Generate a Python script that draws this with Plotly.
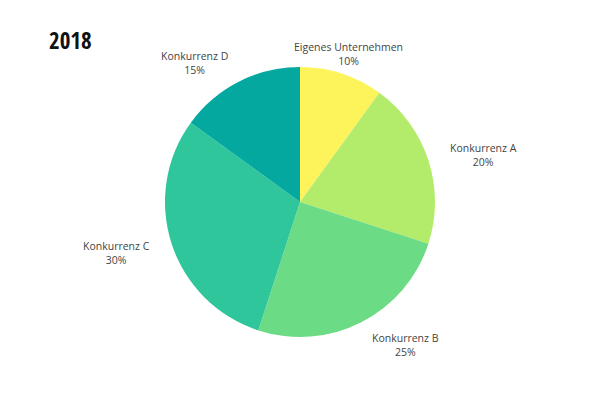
import math
import plotly.graph_objects as go

labels = ["Eigenes Unternehmen", "Konkurrenz A", "Konkurrenz B", "Konkurrenz C", "Konkurrenz D"]
values = [10, 20, 25, 30, 15]
colors = ["#fdf45c", "#b2ec6a", "#6cdb85", "#2ec69a", "#05a89f"]
title_text = "2018"

W, H = 600, 400
cx, cy, r = 292, 194, 135  # pie centre / radius in figure pixels

fig = go.Figure(go.Pie(
    labels=labels,
    values=values,
    sort=False,
    direction="clockwise",
    rotation=0,
    marker=dict(colors=colors, line=dict(width=0)),
    textinfo="none",
    hoverinfo="label+percent",
    showlegend=False,
    domain=dict(x=[(cx - r) / W, (cx + r) / W], y=[(H - cy - r) / H, (H - cy + r) / H]),
))

# outside labels, positioned at the middle angle of each slice
total = sum(values)
annotations = []
acc = 0
R = 1.17 * r
for lab, v in zip(labels, values):
    mid = (acc + v / 2) / total * 2 * math.pi
    acc += v
    s, c = math.sin(mid), math.cos(mid)
    if s > 0.4:
        xa = "left"
    elif s < -0.4:
        xa = "right"
    else:
        xa = "center"
    px = cx + R * s
    py = cy - R * c + 2
    annotations.append(dict(
        text=f"{lab}<br>{round(v / total * 100)}%",
        x=px / W, y=1 - py / H, xref="paper", yref="paper",
        xanchor=xa, yanchor="middle", align="center", showarrow=False,
        borderpad=0, borderwidth=0,
        font=dict(family="Open Sans", size=10.5, color="#444"),
    ))

fig.update_layout(
    width=W, height=H,
    margin=dict(l=0, r=0, t=0, b=0),
    paper_bgcolor="white",
    plot_bgcolor="white",
    title=dict(
        text="<b>" + title_text + "</b>",
        x=41 / W, xanchor="left", xref="container",
        y=1 - 33 / H, yanchor="middle", yref="container",
        font=dict(family="'Noto Sans ExtraCondensed', 'Open Sans Condensed', 'Noto Sans Condensed', 'DejaVu Sans Condensed'",
                  size=23, color="#111"),
    ),
    annotations=annotations,
)
fig.write_html("out.html")
